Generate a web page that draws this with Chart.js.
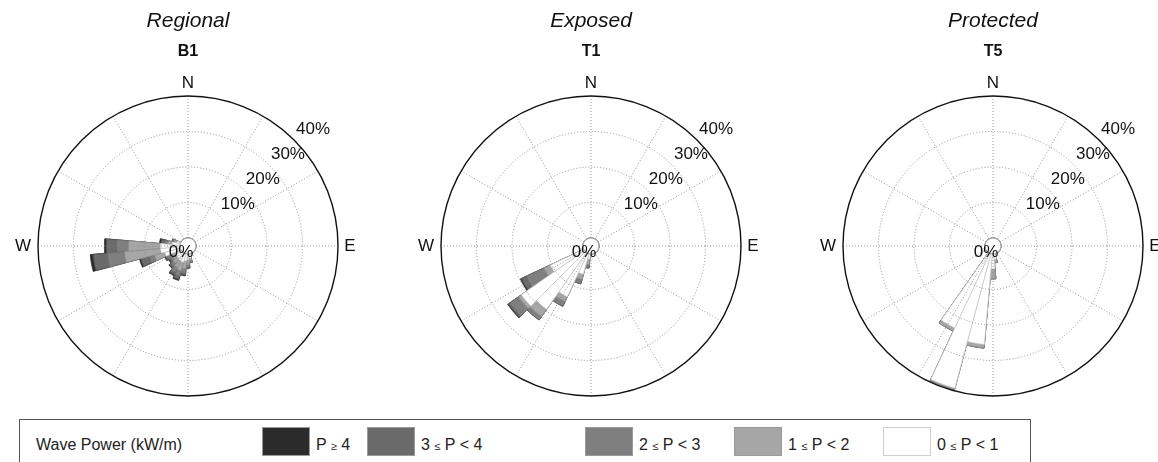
<!DOCTYPE html>
<html>
<head>
<meta charset="utf-8">
<script src="https://cdn.jsdelivr.net/npm/chart.js@4.4.0/dist/chart.umd.min.js"></script>
<style>
  html, body { margin: 0; padding: 0; background: #fff; overflow: hidden; width: 1158px; height: 462px; }
  .panel { position: absolute; top: 0; width: 390px; height: 400px; }
  #legend { position: absolute; left: 19px; top: 419px; width: 1010px; height: 60px; border: 1px solid #555;
            font-family: "Liberation Sans", Arial, sans-serif; font-size: 16px; color: #222; }
  #legend .lbl { position: absolute; top: 16px; white-space: nowrap; }
  #legend .sw { position: absolute; top: 7px; width: 48px; height: 29px; box-sizing: border-box; border: 1px solid #9a9a9a; }
  #legend .le { font-size: 11px; }
</style>
</head>
<body>
<div class="panel" style="left:-7px"><canvas id="rose0"></canvas></div>
<div class="panel" style="left:396px"><canvas id="rose1"></canvas></div>
<div class="panel" style="left:798px"><canvas id="rose2"></canvas></div>
<div id="legend"></div>

<script>
// direction bins (degrees, clockwise from north)
const DIRECTIONS = [0, 10, 20, 30, 40, 50, 60, 70, 80, 90, 100, 110, 120, 130, 140, 150, 160, 170,
                    180, 190, 200, 210, 220, 230, 240, 250, 260, 270, 280, 290, 300, 310, 320, 330, 340, 350];

const RING_VALUES = [0, 10, 20, 30, 40];

const CLASS_LABELS = ["0 ≤ P < 1", "1 ≤ P < 2", "2 ≤ P < 3", "3 ≤ P < 4", "P ≥ 4"];
const CLASS_COLORS = ["#ffffff", "#a6a6a6", "#7f7f7f", "#6a6a6a", "#2b2b2b"];
const CLASS_EDGES = ["#c4c4c4", "#8c8c8c", "#6c6c6c", "#505050", "#222222"];

// B1 - Regional (% of time per class)
const B1_DIRS = [170, 180, 190, 200, 210, 220, 230, 240, 250, 260, 270, 280, 290];
const B1_P0 = [1.2, 1.5, 2.0, 2.5, 2.3, 2.0, 1.8, 2.0, 4.5, 5.5, 5.5, 2.2, 1.0];
const B1_P1 = [0.8, 1.5, 2.2, 2.5, 2.2, 1.6, 1.2, 1.4, 3.0, 10.2, 9.0, 1.3, 0.8];
const B1_P2 = [0.5, 0.7, 1.3, 1.6, 1.4, 1.0, 0.8, 0.9, 1.6, 4.9, 3.3, 0.9, 0.4];
const B1_P3 = [0.0, 0.3, 0.5, 0.9, 0.8, 0.6, 0.5, 0.5, 2.4, 4.0, 3.0, 1.0, 0.2];
const B1_P4 = [0.0, 0.0, 0.2, 0.3, 0.3, 0.2, 0.2, 0.2, 0.4, 0.8, 0.5, 0.4, 0.1];

// T1 - Exposed
const T1_DIRS = [190, 200, 210, 220, 230, 240];
const T1_P0 = [1.5, 6.0, 13.5, 19.5, 21.7, 10.4];
const T1_P1 = [1.5, 1.5, 1.5, 2.5, 1.0, 2.0];
const T1_P2 = [1.0, 1.3, 1.5, 1.2, 3.0, 5.5];
const T1_P3 = [0.0, 0.0, 0.0, 0.0, 0.5, 1.5];
const T1_P4 = [0.0, 0.0, 0.0, 0.0, 0.2, 0.3];

// T5 - Protected
const T5_DIRS = [170, 180, 190, 200, 210];
const T5_P0 = [1.5, 4.2, 25.6, 39.2, 23.2];
const T5_P1 = [1.0, 2.8, 1.0, 0.4, 1.0];
const T5_P2 = [0, 0, 0, 0, 0];
const T5_P3 = [0, 0, 0, 0, 0];
const T5_P4 = [0, 0, 0, 0, 0];

const PANELS = [
  { id: "rose0", title: "Regional", site: "B1", dirs: B1_DIRS, classes: [B1_P0, B1_P1, B1_P2, B1_P3, B1_P4] },
  { id: "rose1", title: "Exposed", site: "T1", dirs: T1_DIRS, classes: [T1_P0, T1_P1, T1_P2, T1_P3, T1_P4] },
  { id: "rose2", title: "Protected", site: "T5", dirs: T5_DIRS, classes: [T5_P0, T5_P1, T5_P2, T5_P3, T5_P4] },
];

const FONT = "'Liberation Sans', Arial, sans-serif";
Chart.defaults.font.family = FONT;

// cumulative (stacked) radius per class, expanded onto the 36 bins
function stackedBins(dirs, classes) {
  return classes.map((_, k) =>
    DIRECTIONS.map((d) => {
      const j = dirs.indexOf(d);
      if (j < 0) return 0;
      let sum = 0;
      for (let c = 0; c <= k; c++) sum += classes[c][j];
      return sum;
    })
  );
}

const roseDecor = {
  id: "roseDecor",
  afterDatasetsDraw(chart) {
    const s = chart.scales.r;
    const ctx = chart.ctx;
    const r0 = s.getDistanceFromCenterForValue(0);
    const rMax = s.getDistanceFromCenterForValue(40);
    ctx.save();
    // empty hole in the middle
    ctx.fillStyle = "#fff";
    ctx.beginPath();
    ctx.arc(s.xCenter, s.yCenter, r0, 0, Math.PI * 2);
    ctx.fill();
    // spokes every 30 degrees
    ctx.strokeStyle = "#8a8a8a";
    ctx.lineWidth = 0.9;
    ctx.setLineDash([1, 2]);
    for (let a = 0; a < 360; a += 30) {
      const t = (a * Math.PI) / 180;
      ctx.beginPath();
      ctx.moveTo(s.xCenter + r0 * Math.sin(t), s.yCenter - r0 * Math.cos(t));
      ctx.lineTo(s.xCenter + rMax * Math.sin(t), s.yCenter - rMax * Math.cos(t));
      ctx.stroke();
    }
    ctx.restore();
  },
  afterDraw(chart) {
    const s = chart.scales.r;
    const ctx = chart.ctx;
    const cx = s.xCenter, cy = s.yCenter;
    const R = s.getDistanceFromCenterForValue(40);
    ctx.save();
    ctx.fillStyle = "#111";
    ctx.font = "17px " + FONT;
    ctx.textAlign = "center";
    ctx.textBaseline = "middle";
    ctx.fillText("N", cx, cy - R - 13);
    ctx.fillText("S", cx, cy + R + 12);
    ctx.fillText("W", cx - R - 15, cy);
    ctx.fillText("E", cx + R + 12, cy);
    ctx.fillText("0%", cx - 7, cy + 6);
    ctx.textAlign = "left";
    RING_VALUES.slice(1).forEach((v) => {
      const r = s.getDistanceFromCenterForValue(v);
      ctx.fillText(v + "%", cx + r * Math.SQRT1_2 + 2, cy - r * Math.SQRT1_2 - 11);
    });
    ctx.restore();
  },
};

const lastRing = RING_VALUES.length - 1;

PANELS.forEach((p) => {
  const stacked = stackedBins(p.dirs, p.classes);
  new Chart(document.getElementById(p.id), {
    type: "polarArea",
    data: {
      labels: DIRECTIONS.map(String),
      datasets: stacked.map((data, k) => ({
        label: CLASS_LABELS[k],
        data,
        backgroundColor: CLASS_COLORS[k],
        borderColor: CLASS_EDGES[k],
        borderWidth: 0.7,
      })),
    },
    options: {
      responsive: true,
      maintainAspectRatio: false,
      animation: false,
      events: [],
      layout: { padding: { top: 0, bottom: 4, left: 0, right: 0 } },
      plugins: {
        legend: { display: false },
        tooltip: { enabled: false },
        title: {
          display: true,
          text: p.title,
          color: "#111",
          font: { size: 21, style: "italic", weight: "normal" },
          padding: { top: 9, bottom: 4 },
        },
        subtitle: {
          display: true,
          text: p.site,
          color: "#111",
          font: { size: 16, weight: "bold" },
          padding: { top: 4, bottom: 34.6 },
        },
      },
      scales: {
        r: {
          type: "radialLinear",
          min: -2.25,
          max: 40,
          beginAtZero: false,
          startAngle: -5,
          afterBuildTicks: (scale) => {
            scale.ticks = RING_VALUES.map((v) => ({ value: v }));
          },
          ticks: { display: false, z: 1 },
          pointLabels: { display: false },
          angleLines: { display: false },
          grid: {
            circular: true,
            z: 1,
            color: (c) => (c.index === lastRing ? "#111" : c.index === 0 ? "#9a9a9a" : "#8a8a8a"),
            lineWidth: (c) => (c.index === lastRing ? 1.4 : 0.9),
            borderDash: (c) => (c.index === lastRing || c.index === 0 ? [] : [1, 2]),
          },
          border: {
            dash: (c) => (c.index === lastRing || c.index === 0 ? [] : [1, 2]),
          },
        },
      },
    },
    plugins: [roseDecor],
  });
});

// legend strip
const legend = document.getElementById("legend");
const title = document.createElement("div");
title.className = "lbl";
title.style.left = "16px";
title.textContent = "Wave Power (kW/m)";
legend.appendChild(title);

const swatchX = [242, 347, 565, 714, 863];
const order = [4, 3, 2, 1, 0];
order.forEach((k, i) => {
  const sw = document.createElement("div");
  sw.className = "sw";
  sw.style.left = swatchX[i] + "px";
  sw.style.background = CLASS_COLORS[k];
  if (k === 0) sw.style.borderColor = "#cfcfcf";
  legend.appendChild(sw);
  const lb = document.createElement("div");
  lb.className = "lbl";
  lb.style.left = swatchX[i] + 54 + "px";
  lb.innerHTML = CLASS_LABELS[k].replace(/([≤≥])/g, '<span class="le">$1</span>');
  legend.appendChild(lb);
});
</script>
</body>
</html>
